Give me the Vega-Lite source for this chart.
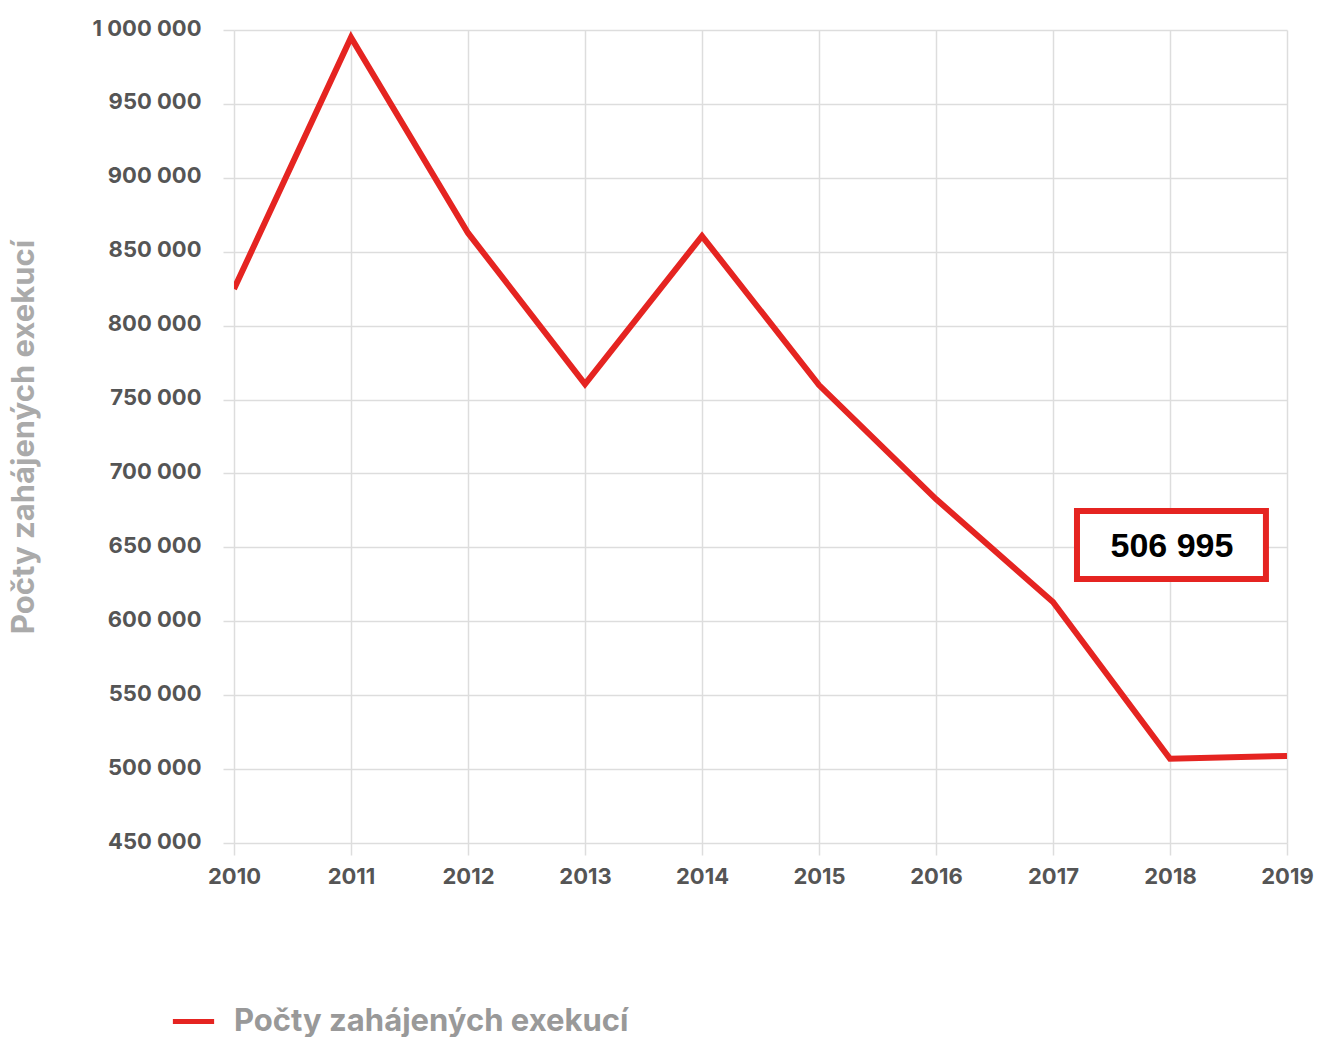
{
  "$schema": "https://vega.github.io/schema/vega-lite/v6.json",
  "autosize": "none",
  "width": 1053,
  "height": 813,
  "padding": {"left": 234, "top": 30, "right": 30, "bottom": 194},
  "background": "white",
  "config": {
    "locale": {"number": {"decimal": ",", "thousands": " ", "grouping": [3], "currency": ["", " Kč"]}},
    "view": {"stroke": null},
    "font": "Inter"
  },
  "datasets": {
    "series": [
      {"year": 2010, "value": 824800, "series": "Počty zahájených exekucí"},
      {"year": 2011, "value": 995000, "series": "Počty zahájených exekucí"},
      {"year": 2012, "value": 862700, "series": "Počty zahájených exekucí"},
      {"year": 2013, "value": 760500, "series": "Počty zahájených exekucí"},
      {"year": 2014, "value": 860600, "series": "Počty zahájených exekucí"},
      {"year": 2015, "value": 759800, "series": "Počty zahájených exekucí"},
      {"year": 2016, "value": 682700, "series": "Počty zahájených exekucí"},
      {"year": 2017, "value": 613000, "series": "Počty zahájených exekucí"},
      {"year": 2018, "value": 506995, "series": "Počty zahájených exekucí"},
      {"year": 2019, "value": 508900, "series": "Počty zahájených exekucí"}
    ],
    "note": [
      {"x1": 2017.205, "x2": 2018.82, "y1": 628600, "y2": 674600, "xc": 2018.017, "yc": 650250, "label": "506 995"}
    ]
  },
  "layer": [
    {
      "data": {"name": "series"},
      "mark": {"type": "line", "strokeWidth": 6, "strokeJoin": "miter", "strokeCap": "butt", "clip": true},
      "encoding": {
        "x": {
          "field": "year", "type": "quantitative",
          "scale": {"domain": [2010, 2019], "nice": false, "zero": false},
          "axis": {
            "values": [2010, 2011, 2012, 2013, 2014, 2015, 2016, 2017, 2018, 2019],
            "format": "d", "title": null, "domain": false,
            "grid": true, "gridColor": "#dddddd", "gridWidth": 1.5,
            "ticks": true, "tickColor": "#dddddd", "tickSize": 12, "tickWidth": 1.5,
            "labelFlush": false, "labelOverlap": false, "labelBound": false,
            "labelFont": "Inter", "labelFontSize": 22, "labelFontWeight": "bold",
            "labelColor": "#555555", "labelPadding": 11
          }
        },
        "y": {
          "field": "value", "type": "quantitative",
          "scale": {"domain": [450000, 1000000], "nice": false, "zero": false},
          "axis": {
            "values": [450000, 500000, 550000, 600000, 650000, 700000, 750000, 800000, 850000, 900000, 950000, 1000000],
            "format": ",d", "title": "Počty zahájených exekucí",
            "domain": false,
            "grid": true, "gridColor": "#dddddd", "gridWidth": 1.5,
            "ticks": true, "tickColor": "#dddddd", "tickSize": 11, "tickWidth": 1.5,
            "labelFlush": false, "labelOverlap": false, "labelOffset": -2,
            "labelFont": "Inter", "labelFontSize": 22, "labelFontWeight": "bold",
            "labelColor": "#555555", "labelPadding": 22,
            "titleFont": "Inter", "titleFontSize": 31, "titleFontWeight": "bold",
            "titleColor": "#aaaaaa", "titlePadding": 52
          }
        },
        "color": {
          "field": "series", "type": "nominal",
          "scale": {"range": ["#e52421"]},
          "legend": {
            "title": null, "orient": "none", "legendX": -64, "legendY": 968,
            "symbolType": "stroke", "symbolSize": 1700, "symbolStrokeWidth": 5,
            "labelFont": "Inter", "labelFontSize": 31, "labelFontWeight": "bold",
            "labelColor": "#999999", "labelOffset": 17, "labelLimit": 700
          }
        }
      }
    },
    {
      "data": {"name": "note"},
      "mark": {"type": "rect", "fill": "white", "stroke": "#e52421", "strokeWidth": 6},
      "encoding": {
        "x": {"field": "x1", "type": "quantitative"},
        "x2": {"field": "x2"},
        "y": {"field": "y1", "type": "quantitative"},
        "y2": {"field": "y2"}
      }
    },
    {
      "data": {"name": "note"},
      "mark": {"type": "text", "font": "Liberation Sans", "fontSize": 34, "fontWeight": "bold", "color": "#000000", "align": "center", "baseline": "middle"},
      "encoding": {
        "x": {"field": "xc", "type": "quantitative"},
        "y": {"field": "yc", "type": "quantitative"},
        "text": {"field": "label"}
      }
    }
  ]
}
